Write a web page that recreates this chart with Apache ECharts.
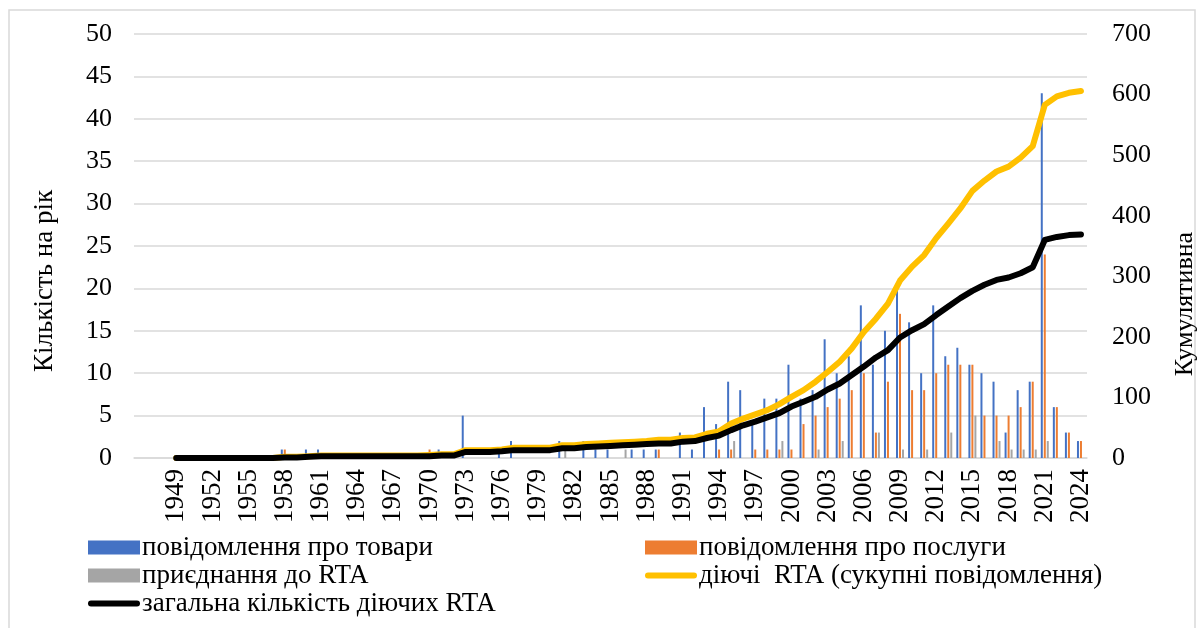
<!DOCTYPE html>
<html>
<head>
<meta charset="utf-8">
<script src="https://cdn.jsdelivr.net/npm/echarts@6/dist/echarts.min.js"></script>
<style>
html,body{margin:0;padding:0;background:#fff;}
#chart{width:1202px;height:628px;}
</style>
</head>
<body>
<div id="chart"></div>
<script>
// Years 1949..2024
const years = [];
for (let y = 1949; y <= 2024; y++) years.push(String(y));

// Goods notifications per year (1949..2024)
const goods = [
  0,0,0,0,0,0,0,0,0,        // 1949-1957
  1,0,1,1,                  // 1958-1961
  0,0,0,0,0,0,0,0,0,        // 1962-1970
  1,0,5,0,0,1,2,0,0,0,      // 1971-1980
  2,0,2,1,1,0,1,1,1,0,      // 1981-1990
  3,1,6,4,9,8,4,7,7,11,     // 1991-2000
  7,8,14,10,12,18,11,15,20,16, // 2001-2010
  10,18,12,13,11,10,9,3,8,9,   // 2011-2020
  43,6,3,2                  // 2021-2024
];
// Services notifications per year
const services = [
  0,0,0,0,0,0,0,0,0,
  1,0,0,0,
  0,0,0,0,0,0,0,0,1,
  0,0,0,0,0,0,0,0,0,0,
  0,0,0,0,0,0,0,0,1,0,
  0,0,0,1,1,0,1,1,1,1,
  4,5,6,7,8,10,3,9,17,8,
  8,10,11,11,11,5,5,5,6,9,
  24,6,3,2
];
// Accessions to RTAs per year
const accessions = [
  0,0,0,0,0,0,0,0,0,
  0,0,0,0,
  0,0,0,0,0,0,0,0,0,
  0,0,0,0,0,0,0,0,0,0,
  1,0,0,0,0,1,0,0,0,0,
  0,0,0,0,2,0,0,0,2,0,
  0,1,0,2,0,0,3,0,1,0,
  1,0,3,0,5,0,2,1,1,1,
  2,0,0,0
];
// Cumulative RTAs in force (notifications)
const cumNotifications = [
  0,0,0,0,0,0,0,0,0,
  2,2,3,4,
  4,4,4,4,4,4,4,4,5,
  6,6,13,13,13,14,17,17,17,17,
  21,21,23,24,25,26,27,28,30,30,
  33,34,40,44,57,65,72,79,89,101,
  112,126,142,159,181,208,230,255,293,316,
  335,363,387,412,441,458,473,481,496,515,
  583,597,603,606
];
// Total number of RTAs in force
const totalInForce = [
  0,0,0,0,0,0,0,0,0,
  1,1,2,3,
  3,3,3,3,3,3,3,3,3,
  4,4,10,10,10,11,13,13,13,13,
  16,16,18,19,20,21,22,23,24,24,
  27,28,33,37,46,54,60,67,74,85,
  93,101,113,123,137,151,166,178,199,211,
  221,236,250,264,276,286,294,298,305,315,
  360,365,368,369
];
const leftTicks = {min: 0, max: 50, interval: 5};
const rightTicks = {min: 0, max: 700, interval: 100};

const seriesNames = [
  'повідомлення про товари',
  'повідомлення про послуги',
  'приєднання до RTA',
  'діючі  RTA (сукупні повідомлення)',
  'загальна кількість діючих RTA'
];
const colors = ['#4472C4', '#ED7D31', '#A5A5A5', '#FFC000', '#000000'];

// three empty leading slots on the category axis (plot area starts before 1949)
const PAD = 3;
const cats = Array(PAD).fill('').concat(years);
const pad = arr => Array(PAD).fill(null).concat(arr);

const FONT = '"Liberation Serif", "Times New Roman", serif';
const LINE_ICON = 'path://M3,0 L49,0 A3,3 0 0 1 49,6 L3,6 A3,3 0 0 1 3,0 Z';
const legendItem = i => (i >= 3
  ? {name: seriesNames[i], icon: LINE_ICON, itemStyle: {color: colors[i], borderWidth: 0}}
  : {name: seriesNames[i], icon: 'rect', itemStyle: {color: colors[i], borderWidth: 0}});

const chart = echarts.init(document.getElementById('chart'), null, {renderer: 'canvas'});

chart.setOption({
  backgroundColor: '#ffffff',
  animation: false,
  textStyle: {fontFamily: FONT, color: '#000'},
  grid: {left: 134, right: 115, top: 34, bottom: 170, containLabel: false},
  xAxis: {
    type: 'category',
    data: cats,
    boundaryGap: true,
    axisLine: {show: true, lineStyle: {color: '#d9d9d9', width: 1.5}},
    axisTick: {show: false},
    axisLabel: {
      rotate: 90,
      margin: 11,
      fontSize: 27,
      fontFamily: FONT,
      color: '#000',
      interval: function (index, value) { return value !== '' && (index - PAD) % 3 === 0; }
    },
    splitLine: {show: false}
  },
  yAxis: [
    {
      type: 'value',
      min: leftTicks.min, max: leftTicks.max, interval: leftTicks.interval,
      position: 'left',
      axisLine: {show: false},
      axisTick: {show: false},
      axisLabel: {fontSize: 26, fontFamily: FONT, color: '#000', margin: 22},
      splitLine: {show: true, lineStyle: {color: '#d9d9d9', width: 1.5}}
    },
    {
      type: 'value',
      min: rightTicks.min, max: rightTicks.max, interval: rightTicks.interval,
      position: 'right',
      axisLine: {show: false},
      axisTick: {show: false},
      axisLabel: {fontSize: 26, fontFamily: FONT, color: '#000', margin: 25},
      splitLine: {show: false}
    }
  ],
  legend: [
    {
      data: [legendItem(0), legendItem(2), legendItem(4)],
      orient: 'vertical',
      left: 83, top: 529,
      itemWidth: 52, itemHeight: 14, itemGap: 1,
      textStyle: {fontSize: 27, fontFamily: FONT, color: '#000', padding: [0,0,0,-3]},
      selectedMode: false
    },
    {
      data: [legendItem(1), legendItem(3)],
      orient: 'vertical',
      left: 640, top: 529,
      itemWidth: 52, itemHeight: 14, itemGap: 1,
      textStyle: {fontSize: 27, fontFamily: FONT, color: '#000', padding: [0,0,0,-3]},
      selectedMode: false
    }
  ],
  graphic: [
    {type: 'rect', shape: {x: 9, y: 10, width: 1186, height: 700}, style: {fill: 'none', stroke: '#d9d9d9', lineWidth: 1.5}, silent: true, z: -10},
    {type: 'text', x: 45, y: 281, rotation: Math.PI / 2,
     style: {text: 'Кількість на рік', font: '27px ' + FONT, fill: '#000', align: 'center', verticalAlign: 'middle'}},
    {type: 'text', x: 1185, y: 304, rotation: Math.PI / 2,
     style: {text: 'Кумулятивна', font: '26px ' + FONT, fill: '#000', align: 'center', verticalAlign: 'middle'}}
  ],
  series: [
    {name: seriesNames[0], type: 'bar', data: pad(goods), yAxisIndex: 0, barWidth: 2, barGap: '50%', itemStyle: {color: colors[0]}, z: 2},
    {name: seriesNames[1], type: 'bar', data: pad(services), yAxisIndex: 0, barWidth: 2, barGap: '50%', itemStyle: {color: colors[1]}, z: 2},
    {name: seriesNames[2], type: 'bar', data: pad(accessions), yAxisIndex: 0, barWidth: 2, barGap: '50%', itemStyle: {color: colors[2]}, z: 2},
    {name: seriesNames[3], type: 'line', data: pad(cumNotifications), yAxisIndex: 1, symbol: 'none', showSymbol: false,
     lineStyle: {color: colors[3], width: 6, cap: 'round', join: 'round'}, itemStyle: {color: colors[3]}, z: 3},
    {name: seriesNames[4], type: 'line', data: pad(totalInForce), yAxisIndex: 1, symbol: 'none', showSymbol: false,
     lineStyle: {color: colors[4], width: 6, cap: 'round', join: 'round'}, itemStyle: {color: colors[4]}, z: 4}
  ]
});
</script>
</body>
</html>
